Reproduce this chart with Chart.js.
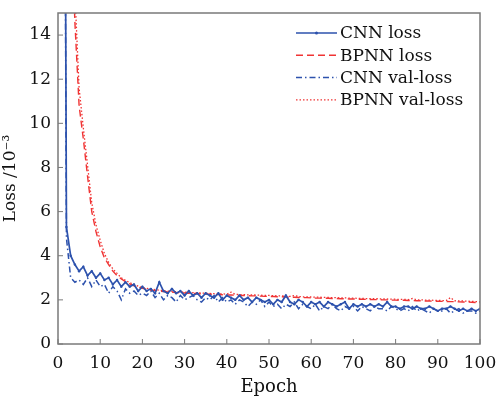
<!DOCTYPE html>
<html>
<head>
<meta charset="utf-8">
<script src="https://cdn.jsdelivr.net/npm/chart.js@4"></script>
<style>
  html, body { margin: 0; padding: 0; background: #fff; }
  #chart { display: block; }
</style>
</head>
<body>
<canvas id="chart" width="498" height="398"></canvas>
<script>
// epochs 1..100
var epochs = [];
for (var e = 1; e <= 100; e++) epochs.push(e);

var cnnLoss = [60, 5.3, 4.0, 3.6, 3.3, 3.5, 3.1, 3.3, 3.0, 3.2,
    2.9, 3.0, 2.7, 2.9, 2.6, 2.8, 2.6, 2.7, 2.4, 2.6,
    2.4, 2.5, 2.3, 2.8, 2.4, 2.3, 2.5, 2.3, 2.4, 2.2,
    2.4, 2.2, 2.3, 2.1, 2.3, 2.2, 2.1, 2.3, 2.0, 2.2,
    2.1, 2.0, 2.2, 2.0, 2.1, 1.9, 2.1, 2.0, 1.9, 2.0,
    1.8, 2.0, 1.9, 2.2, 1.9, 1.8, 2.0, 1.9, 1.7, 1.9,
    1.8, 1.9, 1.7, 1.9, 1.8, 1.7, 1.8, 1.9, 1.6, 1.8,
    1.7, 1.8, 1.7, 1.8, 1.7, 1.8, 1.7, 1.9, 1.7, 1.7,
    1.6, 1.7, 1.7, 1.6, 1.7, 1.6, 1.6, 1.7, 1.6, 1.5,
    1.6, 1.6, 1.7, 1.6, 1.5, 1.6, 1.5, 1.6, 1.5, 1.6];

var bpnnLoss = [45, 30, 20, 14.6, 10.8, 9.3, 7.6, 6.0, 5.1, 4.4,
    3.9, 3.6, 3.3, 3.1, 2.95, 2.82, 2.72, 2.64, 2.58, 2.52,
    2.48, 2.45, 2.42, 2.4, 2.38, 2.36, 2.35, 2.33, 2.32, 2.31,
    2.3, 2.29, 2.28, 2.27, 2.26, 2.26, 2.25, 2.24, 2.23, 2.22,
    2.22, 2.21, 2.2, 2.2, 2.19, 2.18, 2.18, 2.17, 2.16, 2.16,
    2.15, 2.14, 2.14, 2.13, 2.12, 2.12, 2.11, 2.1, 2.1, 2.09,
    2.08, 2.08, 2.07, 2.07, 2.06, 2.06, 2.05, 2.05, 2.04, 2.04,
    2.03, 2.03, 2.02, 2.02, 2.01, 2.01, 2.0, 2.0, 1.99, 1.99,
    1.98, 1.98, 1.97, 1.97, 1.96, 1.96, 1.95, 1.95, 1.94, 1.94,
    1.93, 1.93, 1.92, 1.92, 1.91, 1.9, 1.9, 1.89, 1.88, 1.87];

var cnnVal = [50, 4.8, 3.0, 2.8, 2.9, 2.7, 3.0, 2.6, 2.9, 2.6,
    2.7, 2.3, 2.6, 2.4, 2.0, 2.5, 2.3, 2.4, 2.2, 2.3,
    2.2, 2.4, 2.1, 2.3, 2.0, 2.2, 2.1, 1.9, 2.2, 2.0,
    2.1, 2.2, 2.0, 1.9, 2.1, 2.0, 2.2, 1.9, 2.1, 1.9,
    2.0, 1.8, 2.0, 1.9, 1.7, 1.9, 1.8, 2.0, 1.7, 1.9,
    1.7, 1.8, 1.6, 1.8, 1.7, 1.9, 1.6, 1.8, 1.7, 1.6,
    1.8, 1.5, 1.7, 1.6, 1.8, 1.6, 1.5, 1.7, 1.6, 1.7,
    1.5, 1.7, 1.6, 1.5, 1.7, 1.6, 1.6, 1.5, 1.7, 1.6,
    1.5, 1.6, 1.5, 1.7, 1.5, 1.6, 1.5, 1.4, 1.6, 1.5,
    1.5, 1.6, 1.4, 1.5, 1.6, 1.4, 1.5, 1.5, 1.4, 1.5];

var bpnnVal = [48, 32, 22, 15.9, 11.6, 9.8, 8.1, 6.4, 5.4, 4.7,
    4.1, 3.7, 3.4, 3.2, 3.0, 2.88, 2.78, 2.7, 2.62, 2.56,
    2.52, 2.49, 2.46, 2.44, 2.42, 2.4, 2.39, 2.37, 2.36, 2.35,
    2.34, 2.33, 2.32, 2.31, 2.3, 2.29, 2.28, 2.27, 2.27, 2.26,
    2.35, 2.25, 2.24, 2.24, 2.23, 2.22, 2.22, 2.21, 2.2, 2.2,
    2.19, 2.18, 2.18, 2.17, 2.16, 2.2, 2.15, 2.14, 2.14, 2.13,
    2.12, 2.12, 2.11, 2.11, 2.1, 2.1, 2.09, 2.09, 2.08, 2.08,
    2.07, 2.07, 2.06, 2.06, 2.05, 2.05, 2.04, 2.04, 2.03, 2.03,
    2.02, 2.02, 2.01, 2.06, 2.0, 2.0, 1.99, 1.99, 1.98, 1.98,
    1.97, 1.97, 2.1, 1.96, 1.95, 1.95, 1.94, 1.93, 1.92, 1.91];

var seriesNames = ["CNN loss", "BPNN loss", "CNN val-loss", "BPNN val-loss"];
var xTicks = [0, 10, 20, 30, 40, 50, 60, 70, 80, 90, 100];
var yTicks = [0, 2, 4, 6, 8, 10, 12, 14];

var BLUE = "#2d52ad";
var RED = "#f03434";
var FONT = "'DejaVu Serif', serif";

function pts(vals) {
    return epochs.map(function (x, i) { return { x: x, y: vals[i] }; });
}

// frame + inward ticks + legend inside the plot
var framePlugin = {
    id: "frame",
    afterDatasetsDraw: function (chart) {
        var ctx = chart.ctx, a = chart.chartArea;
        var xs = chart.scales.x, ys = chart.scales.y;
        ctx.save();
        ctx.strokeStyle = "#7a7a7a";
        ctx.lineWidth = 1.5;
        ctx.strokeRect(a.left, a.top, a.right - a.left, a.bottom - a.top);
        ctx.lineWidth = 1;
        ctx.beginPath();
        xTicks.forEach(function (t) {
            var px = xs.getPixelForValue(t);
            ctx.moveTo(px, a.bottom);
            ctx.lineTo(px, a.bottom - 5);
        });
        yTicks.forEach(function (t) {
            var py = ys.getPixelForValue(t);
            ctx.moveTo(a.left, py);
            ctx.lineTo(a.left + 5, py);
        });
        ctx.stroke();

        // legend
        var lx0 = 296, lx1 = 337, ly = 33, step = 22.3;
        chart.data.datasets.forEach(function (ds, i) {
            var y = ly + i * step;
            ctx.strokeStyle = ds.borderColor;
            ctx.lineWidth = ds.borderWidth;
            ctx.setLineDash(ds.borderDash || []);
            ctx.beginPath();
            ctx.moveTo(lx0, y);
            ctx.lineTo(lx1, y);
            ctx.stroke();
            ctx.setLineDash([]);
            if (ds.pointRadius > 0) {
                ctx.fillStyle = ds.borderColor;
                ctx.beginPath();
                ctx.arc((lx0 + lx1) / 2, y, 1.5, 0, Math.PI * 2);
                ctx.fill();
            }
            ctx.fillStyle = "#111";
            ctx.font = "17px " + FONT;
            ctx.textBaseline = "middle";
            ctx.fillText(seriesNames[i], lx1 + 3, y + 1);
        });
        ctx.restore();
    }
};

new Chart(document.getElementById("chart"), {
    type: "line",
    data: {
        datasets: [
            {
                label: seriesNames[0], data: pts(cnnLoss),
                borderColor: BLUE, backgroundColor: BLUE, borderWidth: 1.7,
                pointRadius: 1.2, pointBorderWidth: 0, tension: 0
            },
            {
                label: seriesNames[1], data: pts(bpnnLoss),
                borderColor: RED, backgroundColor: RED, borderWidth: 1.4,
                borderDash: [7, 4], pointRadius: 0, tension: 0
            },
            {
                label: seriesNames[2], data: pts(cnnVal),
                borderColor: BLUE, backgroundColor: BLUE, borderWidth: 1.5,
                borderDash: [6, 3, 1.5, 3], pointRadius: 0, tension: 0
            },
            {
                label: seriesNames[3], data: pts(bpnnVal),
                borderColor: RED, backgroundColor: RED, borderWidth: 1.3,
                borderDash: [1.5, 2], pointRadius: 0, tension: 0
            }
        ]
    },
    options: {
        responsive: false,
        animation: false,
        layout: { padding: { top: 13, right: 18, left: 0, bottom: 0 } },
        plugins: {
            legend: { display: false },
            tooltip: { enabled: false }
        },
        scales: {
            x: {
                type: "linear", min: 0, max: 100,
                afterBuildTicks: function (s) { s.ticks = xTicks.map(function (v) { return { value: v }; }); },
                afterFit: function (s) { s.height = 398 - 344; s.paddingLeft = 0; s.paddingRight = 0; },
                grid: { display: false, drawTicks: false },
                border: { display: false },
                ticks: { color: "#111", font: { family: FONT, size: 17 }, padding: 9, maxRotation: 0, autoSkip: false },
                title: { display: true, text: "Epoch", color: "#111", font: { family: FONT, size: 18 }, padding: { top: 0, bottom: 0 } }
            },
            y: {
                min: 0, max: 15,
                afterBuildTicks: function (s) { s.ticks = yTicks.map(function (v) { return { value: v }; }); },
                afterFit: function (s) { s.width = 58; s.paddingTop = 0; s.paddingBottom = 0; },
                grid: { display: false, drawTicks: false },
                border: { display: false },
                ticks: { color: "#111", font: { family: FONT, size: 17 }, padding: 7, autoSkip: false },
                title: { display: true, text: "Loss /10⁻³", color: "#111", font: { family: FONT, size: 17 }, padding: { top: 0, bottom: 2 } }
            }
        }
    },
    plugins: [framePlugin]
});
</script>
</body>
</html>
